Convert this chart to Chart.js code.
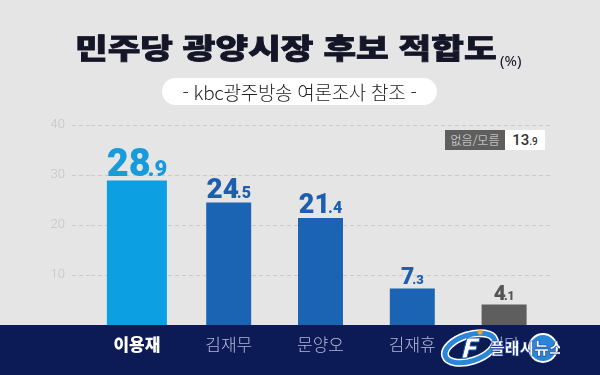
<!DOCTYPE html>
<html lang="ko">
<head>
<meta charset="utf-8">
<title>민주당 광양시장 후보 적합도</title>
<script src="https://cdn.jsdelivr.net/npm/chart.js@4.4.1/dist/chart.umd.min.js"></script>
<style>
  html, body { margin: 0; padding: 0; }
  body { width: 600px; height: 375px; overflow: hidden; background: #e5e5e5; }
  #wrap { position: relative; width: 600px; height: 375px; }
  #chart { position: absolute; left: 0; top: 0; }
  #title {
    position: absolute; left: 75px; top: 33px; white-space: nowrap;
    font-family: "Noto Sans CJK KR", sans-serif; font-weight: 900; font-size: 28px;
    line-height: 1; color: #151528; transform-origin: 0 0;
    -webkit-text-stroke: 0.8px #151528;
  }
  #unit {
    position: absolute; left: 500px; top: 53px;
    font-family: "Noto Sans", sans-serif; font-size: 15px; color: #151528; line-height: 1;
  }
  #sub {
    position: absolute; left: 162px; top: 78px; width: 275px; height: 27px;
    border-radius: 14px; background: #fff; text-align: center;
    font-family: "Noto Sans CJK KR", sans-serif; font-weight: 300; font-size: 19px;
    line-height: 27px; color: #222; letter-spacing: -0.3px;
  }
  #none { position: absolute; left: 445px; top: 130px; height: 20px; display: flex; }
  #none .k {
    width: 60px; background: #5e5e5e; color: #e2e2e2; text-align: center;
    font-family: "Noto Sans CJK KR", sans-serif; font-weight: 300; font-size: 12px; line-height: 20px;
  }
  #none .v {
    width: 40px; background: #fff; color: #333; text-align: center;
    font-family: Roboto, sans-serif; font-weight: 500; font-size: 15px; line-height: 20px;
  }
  #none .v small { font-size: 10px; }
  #logo { position: absolute; left: 440px; top: 326px; width: 120px; height: 44px; }
</style>
</head>
<body>
<div id="wrap">
  <canvas id="chart" width="600" height="375"></canvas>
  <div id="title">민주당 광양시장 후보 적합도</div>
  <div id="unit">(%)</div>
  <div id="sub">- kbc광주방송 여론조사 참조 -</div>
  <div id="none"><span class="k"></span><span class="v"></span></div>
  <svg id="logo" width="120" height="44" viewBox="0 0 120 44">
    <ellipse cx="30" cy="22" rx="26" ry="13" transform="rotate(-18 30 22)" fill="none" stroke="#fff" stroke-width="8"/>
    <ellipse cx="30" cy="22" rx="26" ry="13" transform="rotate(-18 30 22)" fill="none" stroke="#2a86d6" stroke-width="5"/>
    <path d="M22 32 L27 12 L40 12 L39 16 L31 16 L30 20 L37 20 L36 24 L29 24 L27 32 Z" fill="#fff" stroke="#1d5fae" stroke-width="1"/>
    <circle cx="40" cy="6" r="2.5" fill="#f5a623"/>
    <circle cx="103" cy="22" r="14" fill="#2a86d6" stroke="#fff" stroke-width="2"/>
    <text x="50" y="28" font-family="Noto Sans CJK KR, sans-serif" font-weight="900" font-size="16" fill="#fff" stroke="#1d3f8a" stroke-width="0.6">플래시뉴스</text>
  </svg>
</div>
<script>
const categories = ["이용재", "김재무", "문양오", "김재휴", "기타"];
const support = [28.9, 24.5, 21.4, 7.3, 4.1];
const yTickValues = [10, 20, 30, 40];
const noneLabel = "없음/모름";
const noneValue = 13.9;

// styles per bar
const barColors = ["#0ca0e2", "#1b64b4", "#1b64b4", "#1b64b4", "#5e5e5e"];
const labelColors = ["#169bdb", "#1d5fae", "#1d5fae", "#1d5fae", "#555555"];
const labelSizes = [38, 28, 27, 23, 21];

document.addEventListener("DOMContentLoaded", function () {
  // fit the title to the width it has in the graphic
  const title = document.getElementById("title");
  title.style.transform = "scaleX(" + (422 / title.offsetWidth) + ")";

  const noneBox = document.getElementById("none");
  const [nWhole, nDec] = noneValue.toFixed(1).split(".");
  noneBox.querySelector(".k").textContent = noneLabel;
  noneBox.querySelector(".v").innerHTML = nWhole + "<small>." + nDec + "</small>";

  const bandPlugin = {
    id: "band",
    beforeDraw(chart) {
      const { ctx, chartArea, width, height } = chart;
      ctx.save();
      ctx.fillStyle = "#0c1a56";
      ctx.fillRect(0, chartArea.bottom, width, height - chartArea.bottom);
      ctx.restore();
    },
  };

  const valueLabelPlugin = {
    id: "valueLabels",
    afterDatasetsDraw(chart) {
      const ctx = chart.ctx;
      ctx.save();
      ctx.textAlign = "left";
      ctx.textBaseline = "alphabetic";
      chart.data.datasets.forEach((ds, di) => {
        chart.getDatasetMeta(di).data.forEach((bar, i) => {
          const v = ds.data[i];
          if (v == null) return;
          const [whole, dec] = v.toFixed(1).split(".");
          const big = labelSizes[i];
          const small = Math.round(big * 0.58);
          const tuck = Math.round(big * 0.08); // pull the decimal in tight
          ctx.font = "900 " + big + "px Roboto";
          const w1 = ctx.measureText(whole).width;
          ctx.font = "900 " + small + "px Roboto";
          const w2 = ctx.measureText("." + dec).width;
          const x = bar.x - (w1 + w2 - tuck) / 2;
          const y = bar.y - 5;
          ctx.fillStyle = labelColors[i];
          ctx.font = "900 " + big + "px Roboto";
          ctx.fillText(whole, x, y);
          ctx.font = "900 " + small + "px Roboto";
          ctx.fillText("." + dec, x + w1 - tuck, y);
        });
      });
      ctx.restore();
    },
  };

  const ctx = document.getElementById("chart").getContext("2d");
  new Chart(ctx, {
    type: "bar",
    data: {
      labels: categories,
      datasets: [
        {
          data: support.map((v, i) => (i === 0 ? v : null)),
          backgroundColor: barColors,
          barPercentage: 0.654,
          categoryPercentage: 1,
        },
        {
          data: support.map((v, i) => (i === 0 ? null : v)),
          backgroundColor: barColors,
          barPercentage: 0.49,
          categoryPercentage: 1,
        },
      ],
    },
    options: {
      responsive: false,
      maintainAspectRatio: false,
      devicePixelRatio: 1,
      animation: false,
      layout: { padding: { top: 125, right: 50, left: 0, bottom: 0 } },
      plugins: { legend: { display: false }, tooltip: { enabled: false } },
      scales: {
        x: {
          stacked: true,
          grid: { display: false, drawTicks: false },
          border: { display: false },
          ticks: {
            padding: 9,
            color: (c) => (c.index === 0 ? "#ffffff" : "#b3b9d9"),
            font: (c) =>
              c.index === 0
                ? { family: "Noto Sans CJK KR", size: 17, weight: 900 }
                : { family: "Noto Sans CJK KR", size: 17, weight: 300 },
          },
          afterFit: (axis) => { axis.height = 50; },
        },
        y: {
          min: 0,
          max: 40,
          afterBuildTicks: (axis) => { axis.ticks = yTickValues.map((value) => ({ value })); },
          afterFit: (axis) => { axis.width = 91; },
          border: { display: false, dash: [4, 3] },
          grid: {
            color: "#cbcbcb",
            tickColor: "#cbcbcb",
            tickLength: 19,
            tickBorderDash: [4, 3],
          },
          ticks: {
            padding: 7,
            color: "#c4c4c4",
            font: { family: "Roboto", size: 13, weight: 300 },
          },
        },
      },
    },
    plugins: [bandPlugin, valueLabelPlugin],
  });
});
</script>
</body>
</html>
